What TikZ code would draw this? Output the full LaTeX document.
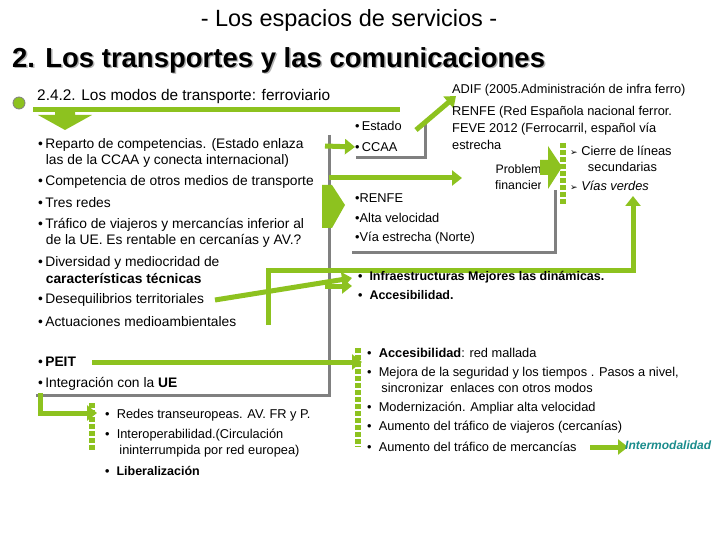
\documentclass[tikz,border=0pt]{standalone}
\usepackage{fontspec}
\setmainfont{Liberation Sans}
\newfontfamily\symfont{DejaVu Sans}
\usetikzlibrary{arrows.meta}
\definecolor{lime}{HTML}{8DC21F}
\definecolor{teal2}{HTML}{1A8C8C}
\begin{document}
\begin{tikzpicture}[x=1pt, y=-1pt, font=\fontsize{13.8}{16.5}\selectfont]
    \tikzset{txt/.style={anchor=west, inner sep=0pt, align=left}}
    \tikzset{small/.style={txt, font=\fontsize{12.8}{16.5}\selectfont}}
    \tikzset{gline/.style={draw=lime, line width=5pt}}
    \tikzset{garrow/.style={gline, -{Triangle[width=15pt,length=10pt]}}}
    \tikzset{grayline/.style={draw=gray, line width=3pt}}
    \tikzset{dots/.style={draw=lime, line width=6pt, dash pattern=on 5pt off 2pt}}
    \newcommand{\tip}{{\symfont\fontsize{9}{9}\selectfont ➢}}
    \useasboundingbox (0,0) rectangle (720,540);

    % titles
    \node[font=\fontsize{23.5}{26}\selectfont] (title) at (349,20) {- Los espacios de servicios -};
    \node[txt, font=\bfseries\fontsize{27.5}{30}\selectfont, text=gray!60] at (13.5,61.5) {2. Los transportes y las comunicaciones};
    \node[txt, font=\bfseries\fontsize{27.5}{30}\selectfont] (sub) at (12,60) {2. Los transportes y las comunicaciones};
    \node[circle, fill=lime, draw=gray, thick, minimum size=12pt, inner sep=0pt] (dot) at (19,103) {};
    \node[txt, font=\fontsize{15.4}{17}\selectfont] (head) at (37,97) {2.4.2. Los modos de transporte: ferroviario};
    \coordinate (hbarA) at (33,110);
    \coordinate (hbarB) at (400,110);
    \draw[gline] (hbarA) -- (hbarB);
    \fill[lime] (55,112) -- (75,112) -- (75,115) -- (92,115) -- (65,130) -- (38,115) -- (55,115) -- cycle;

    % left list
    \node[txt] (l1) at (38,153) {\textbullet\,Reparto de competencias. (Estado enlaza\\\ \ las de la CCAA y conecta internacional)};
    \node[txt] (l2) at (38,182) {\textbullet\,Competencia de otros medios de transporte};
    \node[txt] (l3) at (38,203) {\textbullet\,Tres redes};
    \node[txt] (l4) at (38,233) {\textbullet\,Tráfico de viajeros y mercancías inferior al\\\ \ de la UE. Es rentable en cercanías y AV.?};
    \node[txt] (l5) at (38,270) {\textbullet\,Diversidad y mediocridad de\\\ \ \textbf{características técnicas}};
    \node[txt] (l6) at (38,300) {\textbullet\,Desequilibrios territoriales};
    \node[txt] (l7) at (38,322) {\textbullet\,Actuaciones medioambientales};

    % gray frame lines
    \coordinate (gv1) at (329,135);
    \coordinate (gv2) at (329,395);
    \coordinate (gh1) at (36,395);
    \draw[grayline] (gv1) -- (gv2) -- (gh1);

    % Estado / CCAA
    \node[small] (est) at (355,126) {\textbullet\,Estado};
    \node[small] (ccaa) at (355,147) {\textbullet\,CCAA};
    \draw[grayline] (425,120) |- (356,158);
    \draw[garrow] (325,146) -- (ccaa.west);
    \draw[garrow] (416,130) -- (456,96);

    % ADIF block
    \node[small] (adif) at (452,90) {ADIF (2005.Administración de infra ferro)};
    \node[small] (renfe1) at (452,112) {RENFE (Red Española nacional ferror.};
    \node[small] (feve) at (452,129) {FEVE 2012 (Ferrocarril, español vía};
    \node[small] (estr) at (452,145) {estrecha};
    \begin{scope}
      \clip (400,155) rectangle (540,190);
      \node[small, align=center, font=\fontsize{12.3}{16.5}\selectfont] (prob) at (495,177) {Problemas\\financieros};
    \end{scope}
    \fill[lime] (540,160) -- (548,160) -- (548,146) -- (562,167) -- (548,189) -- (548,175) -- (540,175) -- cycle;
    \draw[dots] (563,143) -- (563,205);
    \node[small] (cie) at (570,159) {\tip\ Cierre de líneas\\\ \ \ \ \ secundarias};
    \node[small] (vias) at (570,186) {\tip\ \textit{Vías verdes}};

    % RENFE block
    \draw[garrow] (329,178) -- (462,178);
    \fill[lime] (322,185) -- (332,185) -- (345,205) -- (332,228) -- (322,228) -- cycle;
    \node[small] (r1) at (355,198) {\textbullet RENFE};
    \node[small] (r2) at (355,218) {\textbullet Alta velocidad};
    \node[small] (r3) at (355,238) {\textbullet Vía estrecha (Norte)};
    \draw[grayline] (555,190) |- (352,252);

    % infraestructuras
    \coordinate (lup) at (268,325);
    \coordinate (vtip) at (633,196);
    \draw[gline, -{Triangle[width=15pt,length=10pt]}] (lup) |- (633,270) -- (vtip);
    \draw[garrow] (215,300) -- (352,278);
    \draw[garrow] (325,286) -- (352,286);
    \node[small, font=\bfseries\fontsize{12.5}{16}\selectfont] (inf) at (358,277) {\textbullet\ \ Infraestructuras Mejores las dinámicas.};
    \node[small, font=\bfseries\fontsize{12.5}{16}\selectfont] (acc) at (358,295) {\textbullet\ \ Accesibilidad.};

    % PEIT
    \node[txt] (peit) at (38,362) {\textbullet\,\textbf{PEIT}};
    \node[txt] (ue) at (38,384) {\textbullet\,Integración con la \textbf{UE}};
    \draw[garrow] (92,362) -- (362,362);
    \draw[gline, -{Triangle[width=15pt,length=10pt]}] (40,393) |- (97,413);
    \draw[dots] (92,403) -- (92,450);
    \node[small] (eu1) at (105,415) {\textbullet\ \ Redes transeuropeas. AV. FR y P.};
    \node[small] (eu2) at (105,443) {\textbullet\ \ Interoperabilidad.(Circulación\\\ \ \ \ ininterrumpida por red europea)};
    \node[small, font=\bfseries\fontsize{12.5}{16}\selectfont] (eu3) at (105,471) {\textbullet\ \ Liberalización};

    % right lower list
    \draw[dots] (358,348) -- (358,447);
    \node[small] (a1) at (367,353) {\textbullet\ \ \textbf{Accesibilidad}: red mallada};
    \node[small] (a2) at (367,380) {\textbullet\ \ Mejora de la seguridad y los tiempos . Pasos a nivel,\\\ \ \ \ sincronizar\ \ enlaces con otros modos};
    \node[small] (a3) at (367,408) {\textbullet\ \ Modernización. Ampliar alta velocidad};
    \node[small] (a4) at (367,427) {\textbullet\ \ Aumento del tráfico de viajeros (cercanías)};
    \node[small] (a5) at (367,447) {\textbullet\ \ Aumento del tráfico de mercancías};
    \draw[garrow] (590,447) -- (628,447);
    \node[small, font=\bfseries\itshape\fontsize{12}{14}\selectfont, text=teal2] (inter) at (625,445) {Intermodalidad};
\end{tikzpicture}
\end{document}
